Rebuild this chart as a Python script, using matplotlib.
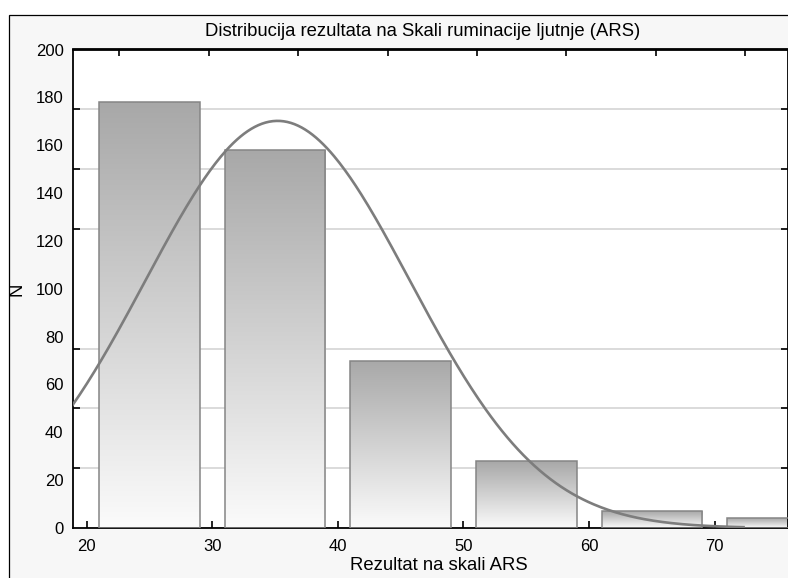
import numpy as np
import matplotlib.pyplot as plt
from matplotlib.patches import Rectangle
from matplotlib.colors import LinearSegmentedColormap
from matplotlib.ticker import MultipleLocator

# histogram bins (class centres) and frequencies
bin_centers = [25, 35, 45, 55, 65, 75]
counts = [178, 158, 70, 28, 7, 4]
bin_width = 10
bar_width = 8

# fitted normal curve parameters
mean_ars = 35.2
sd_ars = 10.55
n_total = 450
curve_from, curve_to = 15, 72.3

y_labels = list(range(0, 201, 20))
x_ticks = [20, 30, 40, 50, 60, 70]
top_ticks = [22.6, 29.7, 36.8, 44.0, 51.1, 58.2, 65.3, 72.4]

title = 'Distribucija rezultata na Skali ruminacije ljutnje (ARS)'
xlab = 'Rezultat na skali ARS'
ylab = 'N'

plt.rcParams['font.family'] = ['Liberation Sans', 'DejaVu Sans']

W, H = 788, 578
fig = plt.figure(figsize=(W / 100, H / 100), dpi=100)
fig.patch.set_facecolor('white')

# grey outer panel with black frame
panel = Rectangle((8.5 / W, -0.1), 1.2, 1 - 14.5 / H + 0.1, transform=fig.transFigure,
                  facecolor='#f7f7f7', edgecolor='black', lw=0.9, zorder=-10)
fig.patches.append(panel)

ax = fig.add_axes([73.3 / W, 1 - 528 / H, (787.5 - 73.3) / W, (528 - 49.5) / H])
ax.set_facecolor('white')

cmap = LinearSegmentedColormap.from_list('bargrad', ['#fbfbfb', '#a8a8a8'])
grad = np.linspace(0, 1, 256).reshape(-1, 1)
for c, h in zip(bin_centers, counts):
    x0 = c - bar_width / 2
    rect = Rectangle((x0, 0), bar_width, h, facecolor='none', edgecolor='#858585',
                     lw=1.1, zorder=3)
    ax.add_patch(rect)
    im = ax.imshow(grad, extent=[x0, x0 + bar_width, 0, h], origin='lower',
                   cmap=cmap, aspect='auto', zorder=2, interpolation='bilinear')
    im.set_clip_path(rect)

xs = np.linspace(curve_from, curve_to, 400)
ys = n_total * bin_width / (sd_ars * np.sqrt(2 * np.pi)) * np.exp(-(xs - mean_ars) ** 2 / (2 * sd_ars ** 2))
ax.plot(xs, ys, color='#7d7d7d', lw=1.9, zorder=4)

ax.set_xlim(18.93, 75.8)
ax.set_ylim(0, 200)

# y: labels every 20, grid and ticks every 25
ax.set_yticks(y_labels)
ax.set_yticklabels([str(v) for v in y_labels])
ax.yaxis.set_minor_locator(MultipleLocator(25))
ax.tick_params(axis='y', which='major', length=0, pad=7, labelsize=12)
ax.tick_params(axis='y', which='minor', direction='in', length=5, width=1.2,
               left=True, right=True)
ax.grid(which='minor', axis='y', color='#d4d4d4', lw=1.2, zorder=1)
ax.set_axisbelow(True)

ax.set_xticks(x_ticks)
ax.tick_params(axis='x', which='major', direction='in', length=5, width=1.2,
               pad=8, labelsize=12)
ax.tick_params(axis='x', which='minor', length=0)

sec = ax.secondary_xaxis('top')
sec.set_xticks(top_ticks)
sec.set_xticklabels([])
sec.tick_params(direction='in', length=5, width=1.2)
sec.spines['top'].set_linewidth(1.3)

for s in ax.spines.values():
    s.set_linewidth(1.3)

fig.text(423 / W, 1 - 32 / H, title, ha='center', va='center', fontsize=13.3)
fig.text(439 / W, 1 - 565 / H, xlab, ha='center', va='center', fontsize=13.3)
fig.text(17 / W, 1 - 289 / H, ylab, ha='center', va='center', fontsize=13.3, rotation=90)

fig.savefig('out.png', dpi=100)
